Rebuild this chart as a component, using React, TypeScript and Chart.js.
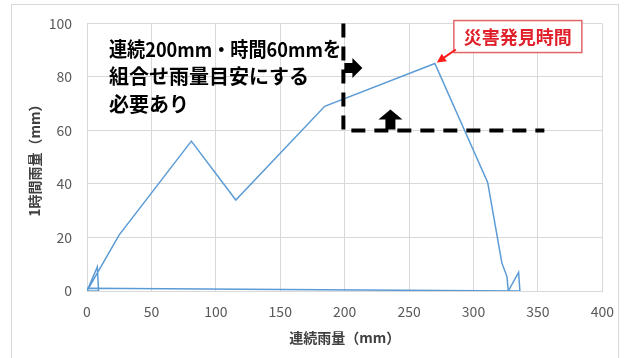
import React, { useEffect, useRef } from "react";
import { Chart, registerables } from "chart.js";

Chart.register(...registerables);

// Rain record: continuous rainfall (mm) against hourly rainfall (mm), in time order
const continuousRain = [0, 8, 9, 0, 25, 81, 115.5, 184.5, 270, 311, 322, 326, 327, 335, 336, 0];
const hourlyRain = [0, 9, 0, 0, 21, 56, 34, 69, 85, 40.6, 10.5, 5.3, 0, 7, 0, 1];

// Guide line: continuous 200 mm combined with hourly 60 mm
const guideContinuous = [199, 199, 355];
const guideHourly = [100, 60, 60];

const xTickValues = [0, 50, 100, 150, 200, 250, 300, 350, 400];
const yTickValues = [0, 20, 40, 60, 80, 100];

const xTitle = "連続雨量（mm）";
const yTitle = "1時間雨量（mm）";
const noteLines = ["連続200mm・時間60mmを", "組合せ雨量目安にする", "必要あり"];
const calloutText = "災害発見時間";
const calloutIndex = 8;

const FONT = "'Noto Sans CJK JP', 'Noto Sans', sans-serif";

const overlayPlugin = {
  id: "overlay",
  beforeDraw(chart: any) {
    const { ctx, width, height } = chart;
    ctx.save();
    ctx.fillStyle = "#ffffff";
    ctx.fillRect(0, 0, width, height);
    ctx.strokeStyle = "#d9d9d9";
    ctx.lineWidth = 1;
    ctx.strokeRect(11.5, 4.5, 607, height + 20);
    ctx.restore();
  },
  afterDatasetsDraw(chart: any) {
    const { ctx, chartArea, scales } = chart;
    const xs = scales.x;
    const ys = scales.y;
    ctx.save();

    // block arrow pointing right, beside the vertical guide
    const rx = xs.getPixelForValue(guideContinuous[0]) + 1;
    const ry = ys.getPixelForValue(83.3);
    ctx.fillStyle = "#000000";
    ctx.beginPath();
    ctx.moveTo(rx, ry - 5);
    ctx.lineTo(rx + 8, ry - 5);
    ctx.lineTo(rx + 8, ry - 10);
    ctx.lineTo(rx + 18, ry);
    ctx.lineTo(rx + 8, ry + 10);
    ctx.lineTo(rx + 8, ry + 5);
    ctx.lineTo(rx, ry + 5);
    ctx.closePath();
    ctx.fill();

    // block arrow pointing up, above the horizontal guide
    const ux = xs.getPixelForValue(235.5);
    const uy = ys.getPixelForValue(guideHourly[1]) - 1;
    ctx.beginPath();
    ctx.moveTo(ux - 5, uy);
    ctx.lineTo(ux - 5, uy - 10);
    ctx.lineTo(ux - 12, uy - 10);
    ctx.lineTo(ux, uy - 20);
    ctx.lineTo(ux + 12, uy - 10);
    ctx.lineTo(ux + 5, uy - 10);
    ctx.lineTo(ux + 5, uy);
    ctx.closePath();
    ctx.fill();

    // note text
    ctx.fillStyle = "#000000";
    ctx.font = `bold 20px ${FONT}`;
    ctx.textBaseline = "middle";
    ctx.textAlign = "left";
    const nx = chartArea.left + 22;
    noteLines.forEach((line, i) => {
      const y = chartArea.top + 26 + i * 27.5;
      if (i === 0) ctx.fillText(line, nx, y, 232);
      else ctx.fillText(line, nx, y);
    });

    // callout at the time of the disaster
    const px = xs.getPixelForValue(continuousRain[calloutIndex]);
    const py = ys.getPixelForValue(hourlyRain[calloutIndex]);
    const bx = px + 19;
    const by = py - 43;
    const bw = 128;
    const bh = 32;
    ctx.fillStyle = "#ffffff";
    ctx.fillRect(bx, by, bw, bh);
    ctx.strokeStyle = "#e06666";
    ctx.lineWidth = 1.5;
    ctx.strokeRect(bx, by, bw, bh);
    ctx.fillStyle = "#e0202a";
    ctx.font = `bold 18px ${FONT}`;
    ctx.textAlign = "center";
    ctx.fillText(calloutText, bx + bw / 2, by + bh / 2 + 1);

    // pointer from the callout to the peak
    const tx = px + 2;
    const ty = py - 1;
    const sx = bx + 2;
    const sy = by + bh - 3;
    const ang = Math.atan2(ty - sy, tx - sx);
    ctx.strokeStyle = "#ff1a1a";
    ctx.fillStyle = "#ff1a1a";
    ctx.lineWidth = 2;
    ctx.beginPath();
    ctx.moveTo(sx, sy);
    ctx.lineTo(tx - 6 * Math.cos(ang), ty - 6 * Math.sin(ang));
    ctx.stroke();
    ctx.beginPath();
    ctx.moveTo(tx, ty);
    ctx.lineTo(tx - 9 * Math.cos(ang) + 4.5 * Math.sin(ang), ty - 9 * Math.sin(ang) - 4.5 * Math.cos(ang));
    ctx.lineTo(tx - 9 * Math.cos(ang) - 4.5 * Math.sin(ang), ty - 9 * Math.sin(ang) + 4.5 * Math.cos(ang));
    ctx.closePath();
    ctx.fill();

    ctx.restore();
  },
};

export default function App() {
  const canvasRef = useRef<HTMLCanvasElement | null>(null);

  useEffect(() => {
    const canvas = canvasRef.current;
    if (!canvas) return;

    const rainPoints = continuousRain.map((v, i) => ({ x: v, y: hourlyRain[i] }));
    const guidePoints = guideContinuous.map((v, i) => ({ x: v, y: guideHourly[i] }));

    const chart = new Chart(canvas, {
      type: "line",
      data: {
        datasets: [
          {
            data: guidePoints,
            borderColor: "#000000",
            borderWidth: 4,
            borderDash: [14, 9],
            pointRadius: 0,
            tension: 0,
            clip: false,
          } as any,
          {
            data: rainPoints,
            borderColor: "#5b9bd5",
            borderWidth: 1.5,
            pointRadius: 0,
            tension: 0,
          },
        ],
      },
      options: {
        animation: false,
        responsive: false,
        maintainAspectRatio: false,
        events: [],
        layout: { padding: { top: 22, right: 23, bottom: 0, left: 0 } },
        plugins: {
          legend: { display: false },
          tooltip: { enabled: false },
        },
        scales: {
          x: {
            type: "linear",
            min: xTickValues[0],
            max: xTickValues[xTickValues.length - 1],
            afterBuildTicks: (s: any) => {
              s.ticks = xTickValues.map((v) => ({ value: v }));
            },
            afterFit: (s: any) => {
              s.height = 67;
            },
            grid: { color: "#d9d9d9", drawTicks: false, lineWidth: 1 },
            border: { color: "#d9d9d9" },
            ticks: {
              padding: 12,
              color: "#595959",
              font: { family: FONT, size: 14 },
              maxRotation: 0,
            },
            title: {
              display: true,
              text: xTitle,
              color: "#404040",
              font: { family: FONT, size: 14, weight: "bold" },
              padding: { top: 0, bottom: 12 },
            },
          },
          y: {
            type: "linear",
            min: yTickValues[0],
            max: yTickValues[yTickValues.length - 1],
            afterBuildTicks: (s: any) => {
              s.ticks = yTickValues.map((v) => ({ value: v }));
            },
            afterFit: (s: any) => {
              s.width = 87;
            },
            grid: { color: "#d9d9d9", drawTicks: false, lineWidth: 1 },
            border: { color: "#d9d9d9" },
            ticks: {
              padding: 15,
              color: "#595959",
              font: { family: FONT, size: 14 },
            },
            title: {
              display: true,
              text: yTitle,
              color: "#404040",
              font: { family: FONT, size: 14, weight: "bold" },
              padding: { top: 26, bottom: 0 },
            },
          },
        },
      },
      plugins: [overlayPlugin],
    });

    return () => chart.destroy();
  }, []);

  return (
    <div style={{ position: "absolute", left: 0, top: 0, width: 626, height: 358, background: "#ffffff" }}>
      <canvas ref={canvasRef} width={626} height={358} style={{ display: "block" }} />
    </div>
  );
}
